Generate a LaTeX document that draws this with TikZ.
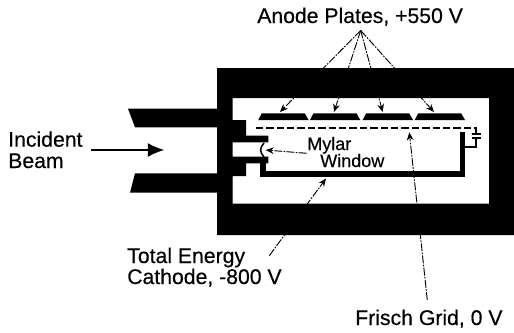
\documentclass[tikz,border=0pt]{standalone}
\usepackage{fontspec}
\setmainfont[FakeBold=.35]{Liberation Sans}
\usetikzlibrary{arrows.meta}

\tikzset{
  biglabel/.style={anchor=base west, inner sep=0pt, font=\fontsize{15.9}{16}\selectfont},
  smalllabel/.style={anchor=base west, inner sep=0pt, font=\fontsize{13.5}{14}\selectfont},
  leader/.style={black, line width=.7pt, dash pattern=on 6pt off 1pt on 1.2pt off 1pt, -{Stealth[length=6pt,width=5pt]}},
  metal/.style={black, line width=4.2pt}
}

\begin{document}
\begin{tikzpicture} [x=.75pt,y=-.75pt]
\useasboundingbox (0,0) rectangle (514,332);

\node[biglabel] (anode) at (257,23) {Anode Plates, +550 V};
\node[biglabel] (incident) at (8,146.7) {Incident};
\node[biglabel] (beam) at (8,168) {Beam};
\node[biglabel] (total) at (127,263) {Total Energy};
\node[biglabel] (cathode) at (127,284) {Cathode, -800 V};
\node[biglabel] (frisch) at (355,325) {Frisch Grid, 0 V};
\node[smalllabel] (mylar) at (307,150) {Mylar};
\node[smalllabel] (window) at (320,167) {Window};

\coordinate (anodefoot) at (360.7,30.5);
\coordinate (cathodefoot) at (269.3,255.7);
\coordinate (frischfoot) at (427.3,300);
\coordinate (mylarfoot) at (306.7,153.3);
\coordinate (cathodetip) at (326,178.5);
\coordinate (frischtip) at (409.3,132.3);
\coordinate (mylartip) at (265.7,150);

% leaders go under the housing
\foreach \xtip [count=\i] in {280,334,382.7,434} {
  \coordinate (platetip\i) at (\xtip,112);
  \draw[leader] (anodefoot) -- (platetip\i);
}
\draw[leader] (cathodefoot) -- (cathodetip);
\draw[leader] (frischfoot) -- (frischtip);
\draw[leader] (mylarfoot) -- (mylartip);

% housing
\fill[black, even odd rule] (217,68) rectangle (514,235) (232.7,98) rectangle (489,203.7);

% upper and lower tube
\fill[black] (128,108.7) -- (217.5,108.7) -- (217.5,127.3) -- (135,127.3) -- cycle;
\fill[black] (135,173.3) -- (217.5,173.3) -- (217.5,192.7) -- (130,192.7) -- cycle;
\fill[black] (217,127) -- (217,142.3) -- (268.3,142.3) -- (268.3,135.7) -- (246,135.7) -- (246,120) -- (232,120) -- (232,127) -- cycle;
\fill[black] (217,156) -- (232.7,156) -- (232.7,156.7) -- (268.3,156.7) -- (268.3,163.3) -- (246,163.3) -- (246,176) -- (232,176) -- (232,204) -- (217,204) -- cycle;

% anode plates
\foreach \xa in {258.3,310,362.7,414.7}
  \fill[black] (\xa,120) -- ({\xa+3.5},113.3) -- ({\xa+46.5},113.3) -- ({\xa+50.3},120) -- cycle;

% grid, cathode, window
\draw[black, line width=1.7pt, dash pattern=on 5.6pt off 2.2pt] (255.7,128.3) -- (477,128.3);
\draw[metal] (263.2,163) -- (263.2,174) -- (462.5,174) -- (462.5,132);
\draw[black, line width=1.1pt] (264,143) .. controls (259.5,148) and (259.5,152) .. (264,157);

% capacitor to the grid
\draw[black, line width=1.3pt] (463,146.7) -- (476.2,146.7) -- (476.2,137.7);
\draw[black, line width=1.3pt] (476.2,128.3) -- (476.2,134.3);
\draw[black, line width=1.5pt] (471.7,134.3) -- (481.3,134.3);
\draw[black, line width=1.5pt] (471.7,137.9) -- (481.3,137.9);

% beam
\coordinate (beamtail) at (90.7,150);
\coordinate (beamtip) at (164.5,150);
\draw[black, line width=1.5pt, -{Latex[length=12.5pt,width=10.5pt]}] (beamtail) -- (beamtip);
\end{tikzpicture}
\end{document}
